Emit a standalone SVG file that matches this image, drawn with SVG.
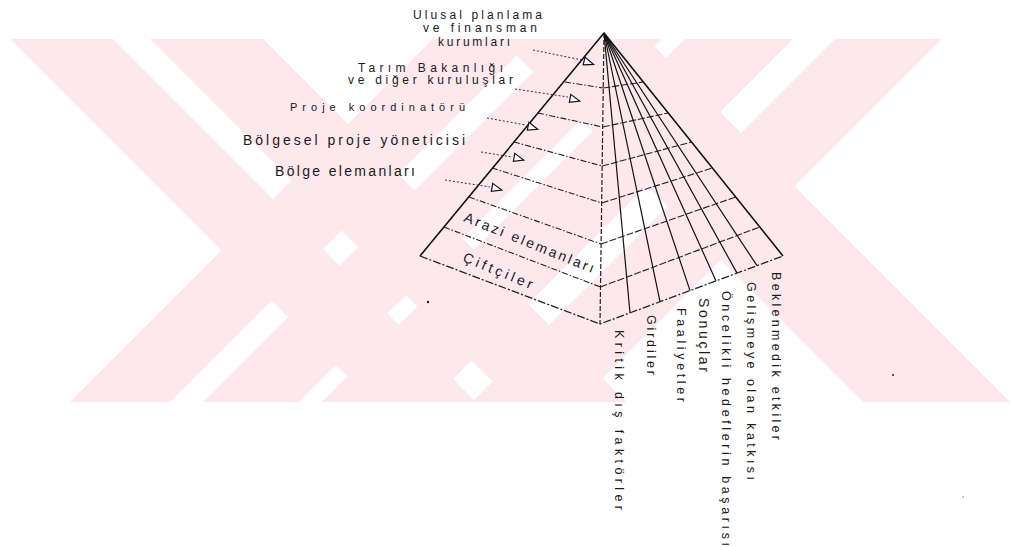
<svg xmlns="http://www.w3.org/2000/svg" width="1011" height="547" viewBox="0 0 1011 547">
<style>
.wm{fill:#fde9ed}
.edge{stroke:#111;fill:none;stroke-width:1.6;stroke-linejoin:round}
.cen{stroke:#222;fill:none;stroke-width:1.2;stroke-dasharray:5 2}
.base{stroke:#222;fill:none;stroke-width:1.3;stroke-dasharray:8 2 2 2}
.fan{stroke:#111;fill:none;stroke-width:1.2}
.layer{stroke:#222;fill:none;stroke-width:1.1;stroke-dasharray:6 2 1.5 2}
.rlayer{stroke:#222;fill:none;stroke-width:1.1;stroke-dasharray:7 2}
.lead{stroke:#333;fill:none;stroke-width:1;stroke-dasharray:2 2}
.tri{stroke:#111;fill:#fff;stroke-width:1.2}
text{font-family:"Liberation Sans",Arial,sans-serif;fill:#1a1a1a}
.lb{font-size:12px}
.lbs{font-size:11px}
.lbb{font-size:14px}
.fc{font-size:14px}
.vl{font-size:12.5px}
</style>
<defs>
<path id="tri" d="M-4,-4 L6,1 L-4,4 Z"/>
</defs>
<g id="watermark">
<polygon class="wm" points="10,39 113,39 476,402 373,402"/>
<polygon class="wm" points="150,39 263,39 626,402 513,402"/>
<polygon class="wm" points="500,39 647,39 1010,402 863,402"/>
<polygon class="wm" points="433,39 533,39 170,402 70,402"/>
<polygon class="wm" points="566,39 662,39 299,402 203,402"/>
<polygon class="wm" points="685,39 793,39 430,402 322,402"/>
<polygon class="wm" points="835,39 942,39 579,402 472,402"/>
</g>
<g id="pyramid">
<g id="left-face-layers">
<line class="layer" x1="565" y1="82" x2="603.3" y2="88"/>
<line class="layer" x1="538" y1="113" x2="602.7" y2="127"/>
<line class="layer" x1="514" y1="142" x2="602.2" y2="166"/>
<line class="layer" x1="492" y1="168" x2="601.7" y2="203"/>
<line class="layer" x1="469" y1="197" x2="601.1" y2="244"/>
<line class="layer" x1="444" y1="227" x2="600.5" y2="287"/>
</g>
<g id="right-face-layers">
<line class="rlayer" x1="603.3" y1="88" x2="643" y2="82"/>
<line class="rlayer" x1="602.7" y1="127" x2="668" y2="113"/>
<line class="rlayer" x1="602.2" y1="166" x2="691.5" y2="142"/>
<line class="rlayer" x1="601.7" y1="203" x2="712.4" y2="168"/>
<line class="rlayer" x1="601.1" y1="244" x2="735.6" y2="197"/>
<line class="rlayer" x1="600.5" y1="287" x2="759.7" y2="227"/>
</g>
<g id="fan-lines">
<line class="fan" x1="604" y1="33" x2="630" y2="312.9"/>
<line class="fan" x1="604" y1="33" x2="660" y2="301.7"/>
<line class="fan" x1="604" y1="33" x2="690" y2="290.6"/>
<line class="fan" x1="604" y1="33" x2="716" y2="280.9"/>
<line class="fan" x1="604" y1="33" x2="737" y2="273.1"/>
<line class="fan" x1="604" y1="33" x2="757" y2="265.7"/>
</g>
<line class="cen" x1="604" y1="33" x2="600" y2="324"/>
<polyline class="base" points="420,256 600,324 783,256"/>
<polyline class="edge" points="420,256 604,33 783,256"/>
</g>
<g id="connectors">
<line class="lead" x1="533" y1="50" x2="582" y2="60"/>
<line class="lead" x1="515" y1="89" x2="568" y2="97"/>
<line class="lead" x1="487" y1="118" x2="526" y2="125"/>
<line class="lead" x1="481" y1="152" x2="512" y2="157"/>
<line class="lead" x1="445" y1="180" x2="490" y2="187"/>
<use href="#tri" class="tri" transform="translate(588,62) rotate(14)"/>
<use href="#tri" class="tri" transform="translate(574,99) rotate(10)"/>
<use href="#tri" class="tri" transform="translate(532,127) rotate(12)"/>
<use href="#tri" class="tri" transform="translate(518,158) rotate(10)"/>
<use href="#tri" class="tri" transform="translate(496,188) rotate(10)"/>
</g>
<g id="node-ulusal">
<text class="lb" x="413" y="19" textLength="129" lengthAdjust="spacing">Ulusal planlama</text>
<text class="lb" x="423" y="32" textLength="114" lengthAdjust="spacing">ve finansman</text>
<text class="lb" x="438" y="46" textLength="72" lengthAdjust="spacing">kurumları</text>
</g>
<g id="node-tarim">
<text class="lb" x="358" y="72" textLength="145" lengthAdjust="spacing">Tarım Bakanlığı</text>
<text class="lb" x="348" y="84" textLength="165" lengthAdjust="spacing">ve diğer kuruluşlar</text>
</g>
<g id="node-proje">
<text class="lbs" x="290" y="111" textLength="175" lengthAdjust="spacing">Proje koordinatörü</text>
</g>
<g id="node-bolgesel">
<text class="lbb" x="243" y="145" textLength="222" lengthAdjust="spacing">Bölgesel proje yöneticisi</text>
</g>
<g id="node-bolge">
<text class="lbb" x="275" y="176" textLength="140" lengthAdjust="spacing">Bölge elemanları</text>
</g>
<g id="node-arazi">
<text class="fc" transform="translate(463,221) rotate(22)" textLength="139" lengthAdjust="spacing">Arazi elemanları</text>
</g>
<g id="node-ciftciler">
<text class="fc" transform="translate(462,261) rotate(22.4)" textLength="74" lengthAdjust="spacing">Çiftçiler</text>
</g>
<g id="node-kritik"><text class="vl" transform="translate(615,330) rotate(90)" textLength="180" lengthAdjust="spacing">Kritik dış faktörler</text></g>
<g id="node-girdiler"><text class="vl" transform="translate(647,315) rotate(90)" textLength="60" lengthAdjust="spacing">Girdiler</text></g>
<g id="node-faaliyetler"><text class="vl" transform="translate(677,308) rotate(90)" textLength="94" lengthAdjust="spacing">Faaliyetler</text></g>
<g id="node-sonuclar"><text class="lbb" transform="translate(699,298) rotate(90)" textLength="74" lengthAdjust="spacing">Sonuçlar</text></g>
<g id="node-oncelikli"><text class="vl" transform="translate(722,291) rotate(90)" textLength="255" lengthAdjust="spacing">Öncelikli hedeflerin başarısı</text></g>
<g id="node-gelisme"><text class="vl" transform="translate(747,282) rotate(90)" textLength="198" lengthAdjust="spacing">Gelişmeye olan katkısı</text></g>
<g id="node-beklenmedik"><text class="vl" transform="translate(772,272) rotate(90)" textLength="168" lengthAdjust="spacing">Beklenmedik etkiler</text></g>
<g id="specks">
<circle cx="428" cy="302" r="1.2" fill="#222"/>
<circle cx="893" cy="375" r="1" fill="#222"/>
<circle cx="963" cy="497" r="0.8" fill="#888"/>
</g>
</svg>
